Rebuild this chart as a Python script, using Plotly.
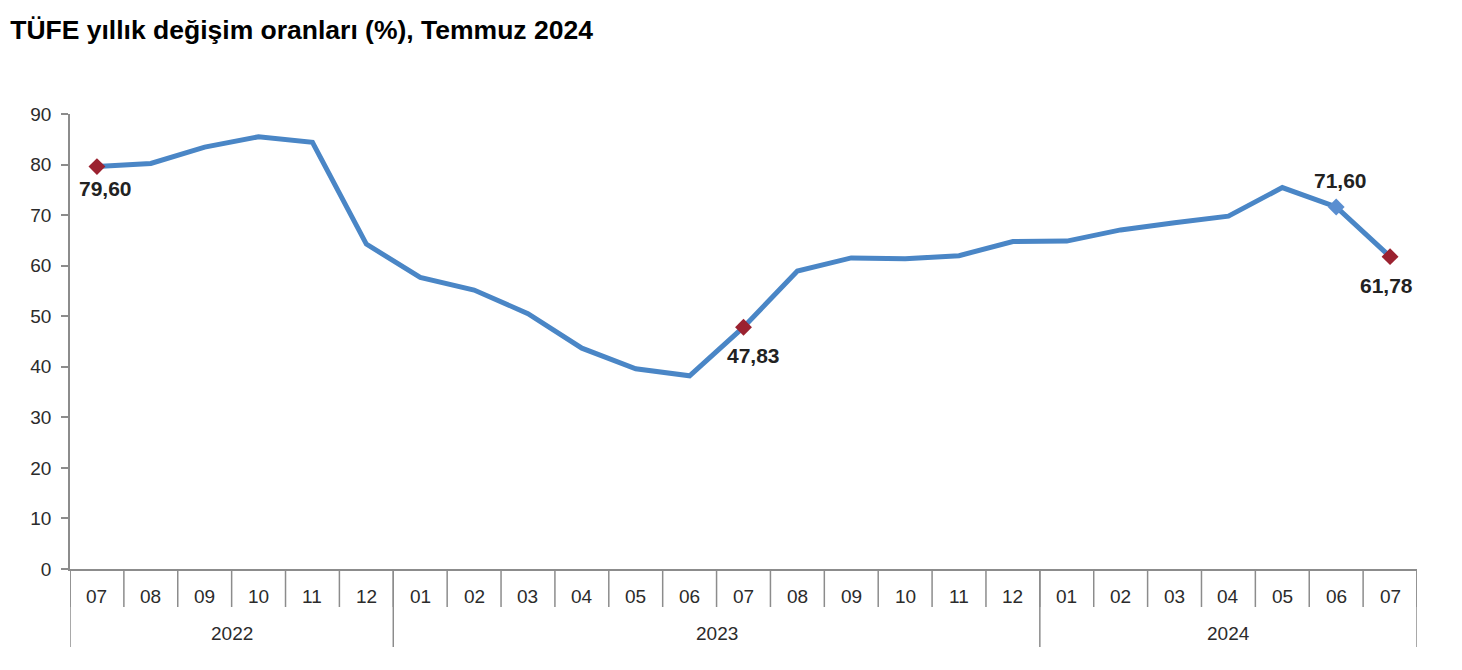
import plotly.graph_objects as go

months = ["07", "08", "09", "10", "11", "12",
          "01", "02", "03", "04", "05", "06", "07", "08", "09", "10", "11", "12",
          "01", "02", "03", "04", "05", "06", "07"]
years = ["2022", "2023", "2024"]
year_counts = [6, 12, 7]
values = [79.60, 80.21, 83.45, 85.51, 84.39, 64.27,
          57.68, 55.18, 50.51, 43.68, 39.59, 38.21, 47.83, 58.94, 61.53, 61.36, 61.98, 64.77,
          64.86, 67.07, 68.50, 69.80, 75.45, 71.60, 61.78]
label_idx = [0, 12, 23, 24]
label_text = ["79,60", "47,83", "71,60", "61,78"]
marker_colors = ["#9b2230", "#9b2230", "#5a8ed0", "#9b2230"]
label_offsets = [(9, -22), (10, -28), (4, 27), (-4, -29)]

x = list(range(len(values)))
FONT = "Liberation Sans, Arial, sans-serif"
AXC = "#8c8c8c"
TXT = "#2b2b2b"

fig = go.Figure()
fig.add_trace(go.Scatter(x=x, y=values, mode="lines",
                         line=dict(color="#4a86c6", width=5),
                         hoverinfo="skip", showlegend=False))
fig.add_trace(go.Scatter(x=[x[i] for i in label_idx], y=[values[i] for i in label_idx],
                         mode="markers",
                         marker=dict(symbol="diamond", size=13, color=marker_colors,
                                     line=dict(width=0)),
                         showlegend=False))

ann = []
for i, t, (dx, dy) in zip(label_idx, label_text, label_offsets):
    ann.append(dict(x=x[i], y=values[i], xref="x", yref="y", text="<b>%s</b>" % t,
                    showarrow=False, xshift=dx, yshift=dy,
                    font=dict(family=FONT, size=21, color="#222222")))

shapes = []
H = 455.0
row1 = -38 / H
row2 = -78 / H
for i, m in enumerate(months):
    ann.append(dict(x=i, y=-27 / H, xref="x", yref="paper", text=m, showarrow=False,
                    font=dict(family=FONT, size=19, color=TXT), yanchor="middle"))
    shapes.append(dict(type="line", xref="x", yref="paper", x0=i - 0.5, x1=i - 0.5,
                       y0=0, y1=row1, line=dict(color=AXC, width=1.5)))
shapes.append(dict(type="line", xref="x", yref="paper", x0=len(months) - 0.5, x1=len(months) - 0.5,
                   y0=0, y1=row1, line=dict(color=AXC, width=1.5)))
start = 0
bounds = [-0.5]
for yname, c in zip(years, year_counts):
    ann.append(dict(x=start + (c - 1) / 2, y=-64 / H, xref="x", yref="paper", text=yname,
                    showarrow=False, font=dict(family=FONT, size=19, color=TXT), yanchor="middle"))
    start += c
    bounds.append(start - 0.5)
for b in bounds:
    shapes.append(dict(type="line", xref="x", yref="paper", x0=b, x1=b,
                       y0=0, y1=row2, line=dict(color=AXC, width=1.5)))

fig.update_layout(
    width=1462, height=670,
    margin=dict(l=70, r=45, t=114, b=101),
    paper_bgcolor="white", plot_bgcolor="white",
    title=dict(text="<b>TÜFE yıllık değişim oranları (%), Temmuz 2024</b>",
               x=0.007, xanchor="left", y=0.955, yanchor="middle",
               font=dict(family=FONT, size=26.5, color="black")),
    xaxis=dict(range=[-0.5, len(values) - 0.5], showticklabels=False, showgrid=False,
               zeroline=False, showline=True, linecolor=AXC, linewidth=1.5, ticks=""),
    yaxis=dict(range=[0, 90], tickvals=list(range(0, 91, 10)), showgrid=False,
               zeroline=False, showline=True, linecolor=AXC, linewidth=1.5,
               ticks="outside", ticklen=7, tickcolor=AXC, tickwidth=1.5,
               ticklabelstandoff=6,
               tickfont=dict(family=FONT, size=19, color=TXT)),
    annotations=ann, shapes=shapes,
)
fig.write_html("out.html")
